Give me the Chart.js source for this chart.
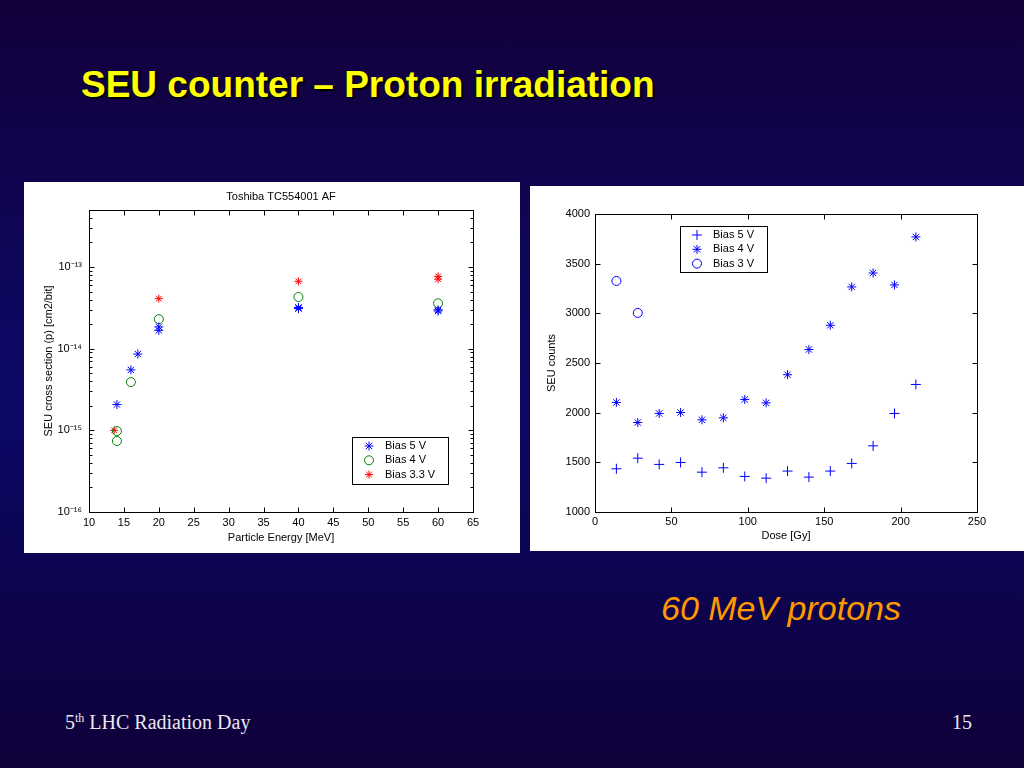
<!DOCTYPE html>
<html>
<head>
<meta charset="utf-8">
<script src="https://cdn.jsdelivr.net/npm/chart.js@4.4.1/dist/chart.umd.min.js"></script>
<style>
  html, body { margin: 0; padding: 0; }
  body {
    width: 1024px; height: 768px; overflow: hidden; position: relative;
    background: linear-gradient(to bottom, #13003a 0%, #0c0862 45%, #0b0864 55%, #0f0038 100%);
    font-family: "Liberation Sans", Arial, sans-serif;
  }
  .txt { position: absolute; white-space: nowrap; }
  #title { left: 81px; top: 66px; font-size: 37px; line-height: 37px; font-weight: bold; color: #ffff00; text-shadow: 2px 2px 1px #000; }
  #note { left: 661px; top: 591px; font-size: 34px; line-height: 34px; font-style: italic; color: #ff9900; }
  .foot { font-family: "Liberation Serif", "Times New Roman", serif; font-size: 20px; line-height: 20px; color: #e8e8f2; top: 712px; }
  .foot sup { font-size: 12px; vertical-align: 7px; line-height: 0; }
  .panel { position: absolute; background: #fff; }
  #p1 { left: 24px; top: 182px; width: 496px; height: 371px; }
  #p2 { left: 530px; top: 186px; width: 494px; height: 365px; }
</style>
</head>
<body>
<div class="txt" id="title">SEU counter – Proton irradiation</div>
<div class="panel" id="p1"><canvas id="c1" width="496" height="371"></canvas></div>
<div class="panel" id="p2"><canvas id="c2" width="494" height="365"></canvas></div>
<div class="txt" id="note">60 MeV protons</div>
<div class="txt foot" style="left:65px">5<sup>th</sup> LHC Radiation Day</div>
<div class="txt foot" style="left:952px">15</div>

<script>
// left plot: cross section vs particle energy (Toshiba TC554001 AF)
const energy5V = [14, 16, 17, 20, 20, 40, 40, 60, 60];
const sigma5V = [2.07e-15, 5.5e-15, 8.6e-15, 1.85e-14, 1.68e-14, 3.2e-14, 3.1e-14, 3.0e-14, 2.9e-14];
const energy4V = [14, 14, 16, 20, 40, 60];
const sigma4V = [9.8e-16, 7.4e-16, 3.9e-15, 2.3e-14, 4.3e-14, 3.6e-14];
const energy33V = [13.6, 20, 40, 60, 60];
const sigma33V = [1.0e-15, 4.1e-14, 6.7e-14, 7.7e-14, 7.1e-14];

// right plot: SEU counts vs dose, 60 MeV protons
const dose = [14, 28, 42, 56, 70, 84, 98, 112, 126, 140, 154, 168, 182, 196, 210];
const counts5V = [1435, 1542, 1479, 1499, 1401, 1445, 1358, 1341, 1412, 1351, 1412, 1489, 1666, 1992, 2284];
const counts4V = [2103, 1901, 1992, 2002, 1928, 1948, 2133, 2099, 2382, 2636, 2880, 3266, 3406, 3286, 3769];
const dose3V = [14, 28];
const counts3V = [3326, 3004];

const FONT = { family: '"Liberation Sans", Arial, sans-serif', size: 11 };
const pts = (xs, ys) => xs.map((x, i) => ({ x: x, y: ys[i] }));

const SUP = { '-': '\u207B', '0': '\u2070', '1': '\u00B9', '2': '\u00B2', '3': '\u00B3', '4': '\u2074',
  '5': '\u2075', '6': '\u2076', '7': '\u2077', '8': '\u2078', '9': '\u2079' };
function isDecade(v) {
  const e = Math.round(Math.log10(v));
  return Math.abs(v / Math.pow(10, e) - 1) < 1e-6;
}
function powerLabel(v) {
  if (!isDecade(v)) return '';
  const e = Math.round(Math.log10(v));
  return '10' + String(e).split('').map(c => SUP[c]).join('');
}

// matlab style box with inward ticks
const boxTicks = {
  id: 'boxTicks',
  afterDraw(chart) {
    const ctx = chart.ctx, a = chart.chartArea;
    const xs = chart.scales.x, ys = chart.scales.y;
    const L = Math.round(a.left) + 0.5, R = Math.round(a.right) + 0.5;
    const T = Math.round(a.top) + 0.5, B = Math.round(a.bottom) + 0.5;
    ctx.save();
    ctx.strokeStyle = '#000';
    ctx.lineWidth = 1;
    ctx.strokeRect(L, T, R - L, B - T);
    ctx.beginPath();
    xs.ticks.forEach(t => {
      const p = Math.round(xs.getPixelForValue(t.value)) + 0.5;
      ctx.moveTo(p, B); ctx.lineTo(p, B - 5);
      ctx.moveTo(p, T); ctx.lineTo(p, T + 5);
    });
    ys.ticks.forEach(t => {
      const p = Math.round(ys.getPixelForValue(t.value)) + 0.5;
      const len = (ys.type === 'logarithmic' && !isDecade(t.value)) ? 3 : 5;
      ctx.moveTo(L, p); ctx.lineTo(L + len, p);
      ctx.moveTo(R, p); ctx.lineTo(R - len, p);
    });
    ctx.stroke();
    ctx.restore();
  }
};

// boxed legend inside the axes
const boxLegend = {
  id: 'boxLegend',
  afterDatasetsDraw(chart, args, o) {
    const ctx = chart.ctx;
    ctx.save();
    ctx.fillStyle = '#fff';
    ctx.fillRect(o.x, o.y, o.w, o.h);
    ctx.strokeStyle = '#000';
    ctx.lineWidth = 1;
    ctx.strokeRect(o.x + 0.5, o.y + 0.5, o.w, o.h);
    chart.data.datasets.forEach((ds, i) => {
      const cy = o.y + o.first + i * o.row;
      ctx.strokeStyle = ds.borderColor;
      ctx.fillStyle = 'rgba(0,0,0,0)';
      ctx.lineWidth = 1;
      Chart.helpers.drawPoint(ctx, { pointStyle: ds.pointStyle, radius: ds.pointRadius, borderWidth: 1, rotation: 0 }, o.x + o.mark, cy);
      ctx.fillStyle = '#000';
      ctx.font = '11px "Liberation Sans", Arial, sans-serif';
      ctx.textBaseline = 'middle';
      ctx.textAlign = 'left';
      ctx.fillText(ds.label, o.x + o.text, cy);
    });
    ctx.restore();
  }
};

function series(label, data, style, color, r) {
  return {
    label: label, data: data, pointStyle: style, pointRadius: r, pointBorderWidth: 1,
    borderColor: color, backgroundColor: 'rgba(0,0,0,0)', showLine: false
  };
}

const axisTitle = (text, pad) => ({ display: true, text: text, color: '#000', font: FONT, padding: pad });

new Chart(document.getElementById('c1'), {
  type: 'scatter',
  data: {
    datasets: [
      series('Bias 5 V', pts(energy5V, sigma5V), 'star', '#0000ff', 4.5),
      series('Bias 4 V', pts(energy4V, sigma4V), 'circle', '#008000', 4.5),
      series('Bias 3.3 V', pts(energy33V, sigma33V), 'star', '#ff0000', 4)
    ]
  },
  options: {
    responsive: false,
    animation: false,
    layout: { padding: { top: 0, right: 47, bottom: 0, left: 0 } },
    plugins: {
      legend: { display: false },
      tooltip: { enabled: false },
      boxLegend: { x: 328, y: 255, w: 96, h: 47, first: 9, row: 14.3, mark: 17, text: 33 }
    },
    scales: {
      x: {
        type: 'linear', position: 'bottom', min: 10, max: 65,
        ticks: { stepSize: 5, color: '#000', font: FONT, padding: 4, maxRotation: 0, autoSkip: false },
        grid: { display: false, drawTicks: false }, border: { display: false },
        title: axisTitle('Particle Energy [MeV]', { top: 0, bottom: 8 }),
        afterFit: s => { s.height = 41; }
      },
      top: {
        type: 'linear', position: 'top', min: 10, max: 65,
        ticks: { display: false }, grid: { display: false, drawTicks: false }, border: { display: false },
        title: axisTitle('Toshiba TC554001 AF', { top: 8, bottom: 0 }),
        afterFit: s => { s.height = 28; }
      },
      y: {
        type: 'logarithmic', min: 1e-16, max: 5e-13,
        afterBuildTicks: s => { s.ticks = s.ticks.filter(t => {
          const m = t.value / Math.pow(10, Math.floor(Math.log10(t.value) + 1e-9));
          return Math.abs(m - Math.round(m)) < 1e-6;
        }); },
        ticks: { callback: v => powerLabel(v), color: '#000', font: FONT, padding: 7, autoSkip: false },
        grid: { display: false, drawTicks: false }, border: { display: false },
        title: axisTitle('SEU cross section (p) [cm2/bit]', { top: 18, bottom: 0 }),
        afterFit: s => { s.width = 65; }
      }
    }
  },
  plugins: [boxTicks, boxLegend]
});

new Chart(document.getElementById('c2'), {
  type: 'scatter',
  data: {
    datasets: [
      series('Bias 5 V', pts(dose, counts5V), 'cross', '#0000ff', 5),
      series('Bias 4 V', pts(dose, counts4V), 'star', '#0000ff', 4.5),
      series('Bias 3 V', pts(dose3V, counts3V), 'circle', '#0000ff', 4.5)
    ]
  },
  options: {
    responsive: false,
    animation: false,
    layout: { padding: { top: 28, right: 47, bottom: 0, left: 0 } },
    plugins: {
      legend: { display: false },
      tooltip: { enabled: false },
      boxLegend: { x: 150, y: 40, w: 87, h: 46, first: 9, row: 14.3, mark: 17, text: 33 }
    },
    scales: {
      x: {
        type: 'linear', min: 0, max: 250,
        ticks: { stepSize: 50, color: '#000', font: FONT, padding: 3, maxRotation: 0, callback: v => String(v) },
        grid: { display: false, drawTicks: false }, border: { display: false },
        title: axisTitle('Dose [Gy]', { top: 0, bottom: 8 }),
        afterFit: s => { s.height = 39; }
      },
      y: {
        type: 'linear', min: 1000, max: 4000,
        ticks: { stepSize: 500, color: '#000', font: FONT, padding: 5, callback: v => String(v) },
        grid: { display: false, drawTicks: false }, border: { display: false },
        title: axisTitle('SEU counts', { top: 15, bottom: 0 }),
        afterFit: s => { s.width = 65; }
      }
    }
  },
  plugins: [boxTicks, boxLegend]
});
</script>
</body>
</html>
